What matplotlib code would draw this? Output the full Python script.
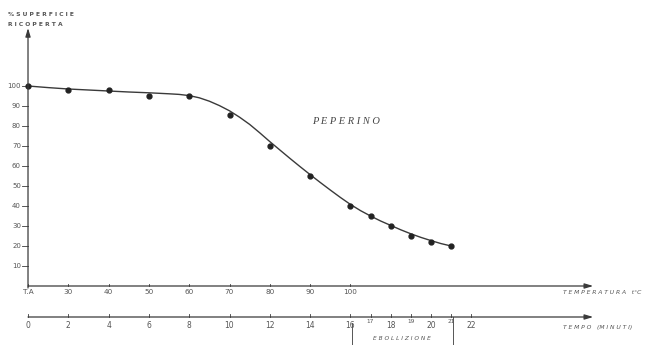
import matplotlib
matplotlib.use("Agg")
import matplotlib.pyplot as plt

# ---- data ----
time_pts = [0, 2, 4, 6, 8, 10, 12, 14, 16, 17, 18, 19, 20, 21]
cover_pts = [100, 98, 98, 95, 95, 85.5, 70, 55, 40, 35, 30, 25, 22, 20]

curve_t = [0, 1, 2, 3, 4, 5, 6, 7, 7.5, 8, 8.5, 9, 9.5, 10, 10.5, 11, 11.5, 12,
           12.5, 13, 13.5, 14, 14.5, 15, 15.5, 16, 16.5, 17, 17.5, 18, 18.5, 19,
           19.5, 20, 20.5, 21]
curve_v = [100, 99.2, 98.5, 98, 97.5, 97, 96.6, 96.1, 95.8, 95.2, 94.1, 92.4,
           90.2, 87.6, 84.4, 80.8, 76.6, 72.2, 68, 63.8, 59.7, 55.7, 51.8, 48,
           44.3, 40.8, 37.7, 35, 32.5, 30.3, 28.1, 26.1, 24.3, 22.7, 21.2, 20]

y_ticks = [10, 20, 30, 40, 50, 60, 70, 80, 90, 100]
temp_pos = [0, 2, 4, 6, 8, 10, 12, 14, 16]
temp_labels = ["T.A", "30", "40", "50", "60", "70", "80", "90", "100"]
time_major = [0, 2, 4, 6, 8, 10, 12, 14, 16, 18, 20, 22]
time_minor = [17, 19, 21]

ink = "#3a3a3a"
txt = "#555555"

fig = plt.figure(figsize=(6.47, 3.45), dpi=100)
ax = fig.add_axes([0, 0, 1, 1])
ax.set_xlim(-1.39, 30.72)
ax.set_ylim(-29.5, 143)
ax.axis("off")

# axes with arrows
arrow = dict(arrowstyle="-|>,head_length=0.5,head_width=0.15", color=ink, lw=0.9,
             shrinkA=0, shrinkB=0)
ax.annotate("", xy=(0, 129), xytext=(0, -1), arrowprops=arrow)
ax.annotate("", xy=(28.05, 0), xytext=(0, 0), arrowprops=arrow)
ax.annotate("", xy=(28.05, -15.5), xytext=(0, -15.5), arrowprops=arrow)

# y ticks
for v in y_ticks:
    ax.plot([-0.3, 0], [v, v], color=ink, lw=0.6)
    ax.text(-0.35, v, str(v), ha="right", va="center", fontsize=5, color=txt)

# temperature ticks
for p, lab in zip(temp_pos, temp_labels):
    ax.plot([p, p], [0, 1.2], color=ink, lw=0.6)
    ax.text(p, -3.2, lab, ha="center", va="center", fontsize=5.2, color=txt)

# time ticks
for p in time_major:
    ax.plot([p, p], [-15.5, -13.8], color=ink, lw=0.6)
    ax.text(p, -20, str(p), ha="center", va="center", fontsize=5.5, color=txt)
for p in time_minor:
    ax.plot([p, p], [-15.5, -13.8], color=ink, lw=0.6)
    ax.text(p, -17.6, str(p), ha="center", va="center", fontsize=4.2, color=txt)

# ebollizione bracket
ax.plot([16.08, 16.08], [-18.5, -29.5], color=ink, lw=0.6)
ax.plot([21.1, 21.1], [-15.5, -29.5], color=ink, lw=0.6)
ax.text(18.56, -26.5, "E B O L L I Z I O N E", ha="center", va="center",
        fontsize=4.2, color=txt, style="italic")

# curve and points
ax.plot(curve_t, curve_v, color=ink, lw=1.0, solid_capstyle="round",
        solid_joinstyle="round")
ax.plot(time_pts, cover_pts, "o", color="#222222", ms=3.5)

# labels
ax.text(-1.0, 135.5, "% S U P E R F I C I E", ha="left", va="center",
        fontsize=4.3, color=txt, weight="bold")
ax.text(-1.0, 131, "R I C O P E R T A", ha="left", va="center",
        fontsize=4.3, color=txt, weight="bold")
ax.text(26.55, -3.5, "T E M P E R A T U R A   t°C", ha="left", va="center",
        fontsize=4.3, color=txt, style="italic")
ax.text(26.55, -21, "T E M P O   (M I N U T I)", ha="left", va="center",
        fontsize=4.3, color=txt, style="italic")
ax.text(15.78, 82, "P E P E R I N O", ha="center", va="center",
        fontsize=7.5, color="#444444", style="italic", family="Liberation Serif")

fig.savefig("out.png", dpi=100, facecolor="white")
